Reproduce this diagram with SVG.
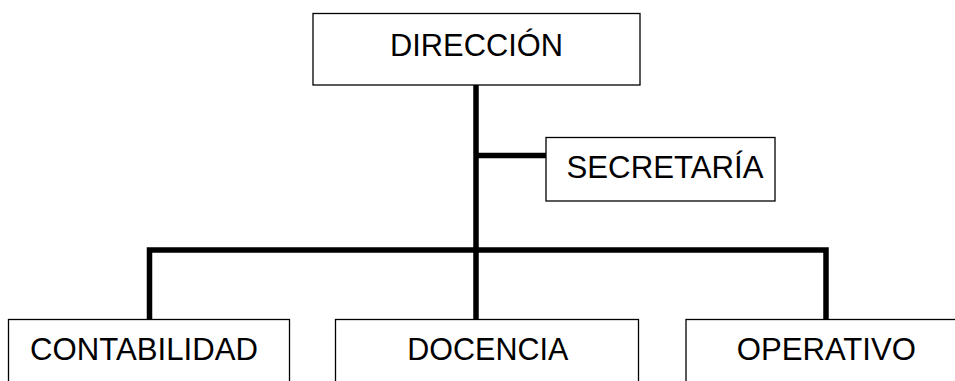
<svg xmlns="http://www.w3.org/2000/svg" width="955" height="381" viewBox="0 0 955 381">
<style>
.box{fill:#fff;stroke:#000;stroke-width:1.3}
.lbl{font-family:"Liberation Sans",Arial,sans-serif;font-size:31px;fill:#000}
.con{fill:none;stroke:#000;stroke-width:5.5;stroke-linejoin:miter;stroke-linecap:butt}
</style>
<rect width="955" height="381" fill="#fff"/>
<g id="connectors">
<line class="con" x1="476" y1="85" x2="476" y2="320"/>
<line class="con" x1="476" y1="155.5" x2="546" y2="155.5"/>
<polyline class="con" points="149.5,320 149.5,250 826,250 826,320"/>
</g>
<g id="direccion">
<rect class="box" x="313" y="13.5" width="327" height="71.5"/>
<text class="lbl" x="476.5" y="55.5" text-anchor="middle" textLength="173" lengthAdjust="spacingAndGlyphs">DIRECCIÓN</text>
</g>
<g id="secretaria">
<rect class="box" x="546" y="137.5" width="229" height="63.5"/>
<text class="lbl" x="566.5" y="177.5" textLength="197" lengthAdjust="spacingAndGlyphs">SECRETARÍA</text>
</g>
<g id="contabilidad">
<rect class="box" x="8.5" y="319.5" width="281" height="80"/>
<text class="lbl" x="30" y="359.5" textLength="228" lengthAdjust="spacingAndGlyphs">CONTABILIDAD</text>
</g>
<g id="docencia">
<rect class="box" x="335.5" y="319.5" width="303" height="80"/>
<text class="lbl" x="407.3" y="359.5" textLength="161" lengthAdjust="spacingAndGlyphs">DOCENCIA</text>
</g>
<g id="operativo">
<rect class="box" x="686" y="319.5" width="280" height="80"/>
<text class="lbl" x="736.7" y="359.5" textLength="179.3" lengthAdjust="spacingAndGlyphs">OPERATIVO</text>
</g>
</svg>
